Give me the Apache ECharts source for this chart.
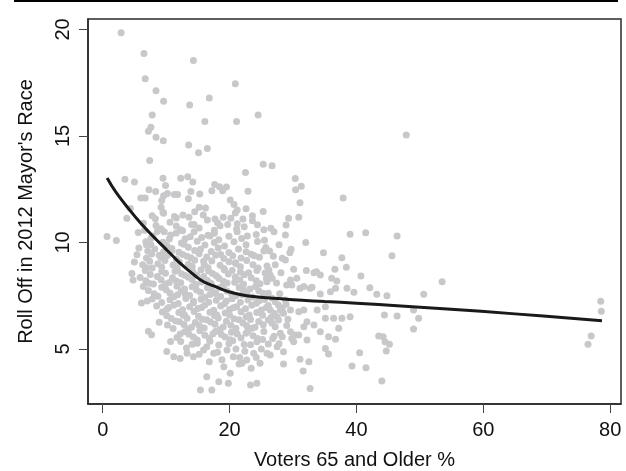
<!DOCTYPE html>
<html>
<head>
<meta charset="utf-8">
<script src="https://cdn.jsdelivr.net/npm/echarts@6/dist/echarts.min.js"></script>
<style>
  html, body { margin: 0; padding: 0; background: #fff; }
  #chart { width: 626px; height: 471px; }
</style>
</head>
<body>
<div id="chart"></div>
<script>
const xTicks = [0, 20, 40, 60, 80];
const yTicks = [5, 10, 15, 20];

// scattered points outside the main cloud
const sparse = [
  [2.9,19.84],[6.5,18.87],[14.3,18.54],[6.7,17.68],[20.9,17.45],[8.4,17.12],[16.8,16.78],[9.6,16.63],
  [13.7,16.45],[7.8,15.99],[24.5,15.99],[16.1,15.68],[21.1,15.68],[7.6,15.41],[7.2,15.22],[8.4,14.94],
  [9.55,14.77],[13.55,14.58],[16.5,14.41],[15.1,14.21],[7.4,13.85],[25.3,13.67],[22.5,13.28],[3.5,12.97],
  [5.0,12.84],[9.5,13.02],[12.3,13.02],[13.4,13.09],[14.2,12.84],[9.9,12.67],[7.3,12.48],[8.35,12.39],
  [6.0,12.09],[6.7,12.09],[9.6,12.2],[10.2,12.3],[11.3,12.25],[11.8,12.25],[13.9,12.39],[15.3,12.28],
  [13.5,12.05],[17.2,12.43],[17.65,12.72],[18.4,12.62],[18.9,12.43],[19.5,12.6],[22.9,12.41],[20.1,12.0],
  [20.7,11.78],[21.2,11.53],[22.6,11.58],[9.3,11.97],[9.2,11.66],[9.5,11.42],[15.2,11.66],[16.2,11.62],
  [15.85,11.29],[4.35,11.6],[7.8,11.26],[9.6,11.37],[12.65,11.29],[13.6,11.19],[3.8,11.14],[17.7,11.1],
  [22.1,11.1],[0.68,10.28],[2.15,10.09],[4.78,8.24],[7.0,7.25],
  [47.85,15.04],[26.7,13.6],[30.35,13.0],[31.3,12.64],[30.4,12.47],[37.9,12.09],[31.1,11.86],[29.3,11.14],
  [30.9,11.19],[28.9,10.82],[26.5,10.67],[27.0,10.51],[28.8,10.35],[39.0,10.39],[41.45,10.46],[46.4,10.31],
  [32.0,10.0],[29.7,9.68],[29.5,9.52],[34.8,9.52],[37.7,9.29],[45.6,9.38],[28.3,9.26],[28.8,9.18],
  [26.2,8.71],[26.4,8.48],[26.7,8.32],[25.9,8.16],[28.1,8.58],[30.1,8.74],[32.1,8.68],[33.3,8.58],
  [33.7,8.63],[34.3,8.48],[36.6,8.74],[38.4,8.84],[40.7,8.43],[36.1,8.32],[36.9,8.19],[36.7,7.85],
  [29.6,8.24],[30.6,8.32],[29.0,8.0],[29.8,8.0],[31.1,7.85],[31.7,7.93],[32.7,7.85],[33.0,7.9],
  [34.3,7.58],[35.9,7.69],[38.5,7.85],[39.6,7.66],[42.1,7.88],[43.2,7.57],[44.8,7.5],[50.6,7.57],[53.5,8.16],
  [26.1,7.62],[26.7,7.38],[27.2,7.22],[27.7,7.07],[28.3,6.91],[26.4,6.83],[27.0,6.68],[27.5,6.52],
  [28.0,6.83],[28.5,6.68],[27.7,6.36],[26.1,6.36],[26.7,6.21],[27.2,6.05],
  [29.6,6.83],[30.9,6.75],[31.7,6.83],[33.8,6.83],[35.1,6.99],[35.1,6.44],[36.4,6.44],[37.7,6.44],
  [39.0,6.52],[44.4,6.6],[46.4,6.55],[49.0,6.83],[49.8,6.44],[32.2,6.28],[33.3,6.13],[31.7,6.05],
  [34.3,5.81],[37.2,5.97],[29.6,5.81],[30.35,5.66],[30.9,5.66],[29.8,5.5],[30.1,5.34],[28.0,5.74],
  [28.3,5.58],[27.5,5.11],[28.5,4.87],[25.9,4.8],[26.4,4.72],[32.2,5.42],[35.6,5.58],[36.7,5.46],
  [35.6,4.77],[35.1,5.03],[31.1,4.52],[32.5,4.4],[31.6,3.97],[28.5,4.3],[32.7,3.15],[39.3,4.2],
  [41.5,4.12],[40.5,4.83],[43.5,5.61],[44.2,5.58],[44.5,5.34],[45.2,5.22],[44.7,4.91],[44.0,3.5],[49.0,5.94],
  [78.5,7.24],[78.6,6.77],[77.0,5.61],[76.5,5.23],
  [15.4,3.08],[17.2,3.08],[16.4,3.7],[18.3,3.47],[19.8,3.39],[23.3,3.31],[24.3,3.39],[20.1,3.86],
  [19.1,4.17],[21.95,4.33],[20.6,4.64],[22.7,4.48],[24.8,4.33],[23.8,4.8],
  [10.1,4.88],[11.2,4.64],[12.2,4.56],[13.3,4.8],[14.3,4.64],[15.9,4.95],[17.5,4.8],[14.9,5.27],
  [16.4,5.11],[18.3,5.19],[19.6,4.95],[21.0,5.0],[22.4,4.9],[23.3,5.2],[25.0,5.0],[21.6,4.6],
  [18.8,4.5],[16.8,4.4],[24.2,4.6]
];

// the dense cloud between x 5 and 26
const cloud = [
  [11.3,11.22],[14.5,11.44],[19.0,11.18],[20.9,11.38],[23.6,11.25],[25.3,11.46],
  [6.4,10.9],[8.3,11.12],[10.6,10.95],[11.6,11.15],[14.0,10.85],[16.5,11.06],[18.1,10.93],[20.2,11.14],[21.2,10.88],[23.6,11.02],[24.4,10.83],
  [6.6,10.58],[8.4,10.8],[9.2,10.64],[11.6,10.77],[12.6,10.55],[14.4,10.84],[15.2,10.68],[17.6,10.57],[18.5,10.79],[21.1,10.63],[22.3,10.74],[25.4,10.6],
  [5.6,10.47],[7.9,10.3],[8.6,10.52],[10.7,10.35],[11.6,10.45],[13.8,10.27],[14.4,10.5],[16.6,10.34],[17.6,10.44],[19.9,10.29],[21.2,10.5],[24.2,10.37],
  [6.8,10.04],[7.6,10.2],[9.5,10.01],[10.5,10.16],[12.4,9.98],[13.0,10.18],[14.9,10.06],[15.6,10.23],[17.6,10.0],[18.3,10.13],[20.7,10.03],[21.9,10.19],[24.4,10.05],
  [5.7,9.74],[7.6,9.9],[8.2,9.7],[10.1,9.86],[10.9,9.72],[12.8,9.92],[13.5,9.78],[15.4,9.68],[16.1,9.88],[18.2,9.74],[19.2,9.84],[21.4,9.69],[22.6,9.89],[25.7,9.77],
  [5.4,9.42],[7.1,9.6],[7.7,9.46],[9.6,9.56],[10.2,9.39],[12.0,9.54],[12.6,9.44],[14.5,9.62],[15.2,9.47],[17.1,9.58],[17.8,9.4],[19.9,9.53],[20.5,9.38],[22.6,9.57],[23.4,9.45],[25.4,9.6],
  [5.0,9.08],[6.9,9.27],[7.4,9.12],[9.2,9.3],[9.8,9.15],[11.6,9.23],[12.1,9.09],[13.9,9.28],[14.5,9.17],[16.4,9.32],[17.2,9.13],[19.1,9.25],[19.9,9.1],[21.8,9.27],[22.7,9.16],[24.7,9.31],
  [6.3,8.96],[6.9,8.81],[8.7,9.0],[9.3,8.85],[11.1,8.94],[11.7,8.79],[13.5,8.98],[14.1,8.87],[16.0,8.97],[16.6,8.82],[18.5,8.93],[19.1,8.78],[21.0,9.0],[21.7,8.86],[23.7,8.95],[24.5,8.8],
  [4.6,8.54],[6.7,8.68],[7.5,8.5],[9.3,8.64],[9.9,8.56],[11.8,8.7],[12.4,8.53],[14.2,8.63],[14.8,8.48],[16.7,8.66],[17.3,8.55],[19.2,8.71],[19.8,8.52],[21.7,8.62],[22.3,8.49],[24.3,8.68],[25.6,8.57],
  [5.9,8.36],[6.8,8.2],[8.6,8.4],[9.2,8.25],[11.0,8.34],[11.6,8.19],[13.5,8.37],[14.1,8.26],[15.9,8.41],[16.5,8.22],[18.3,8.32],[19.0,8.18],[20.9,8.38],[21.6,8.24],[23.4,8.35],[24.2,8.21],
  [6.4,7.93],[7.3,8.09],[9.3,7.9],[9.9,8.05],[11.7,7.95],[12.3,8.11],[14.1,7.92],[14.7,8.03],[16.5,7.88],[17.1,8.07],[19.0,7.96],[19.6,8.1],[21.5,7.89],[22.2,8.04],[24.1,7.94],[24.8,8.06],
  [7.2,7.75],[8.1,7.6],[10.0,7.78],[10.6,7.63],[12.4,7.73],[13.0,7.58],[14.8,7.77],[15.4,7.66],[17.2,7.81],[17.8,7.61],[19.6,7.72],[20.3,7.59],[22.1,7.79],[22.7,7.65],[24.6,7.74],[25.3,7.62],
  [7.8,7.35],[8.7,7.48],[10.6,7.31],[11.2,7.45],[13.1,7.37],[13.7,7.51],[15.5,7.34],[16.1,7.43],[17.9,7.29],[18.6,7.47],[20.4,7.36],[21.0,7.5],[22.9,7.3],[23.6,7.44],[25.5,7.33],
  [6.1,7.16],[8.5,7.02],[9.3,7.18],[11.2,7.05],[11.9,7.14],[13.7,6.99],[14.3,7.17],[16.1,7.07],[16.7,7.2],[18.6,7.02],[19.2,7.13],[21.1,6.98],[21.7,7.19],[23.5,7.06],[24.2,7.15],[26.1,7.04],
  [9.4,6.74],[10.1,6.87],[12.0,6.71],[12.6,6.84],[14.4,6.76],[15.0,6.9],[16.9,6.73],[17.5,6.82],[19.3,6.69],[20.0,6.86],[21.8,6.75],[22.5,6.89],[24.3,6.72],[25.0,6.83],
  [10.1,6.56],[10.8,6.43],[12.7,6.58],[13.3,6.45],[15.1,6.54],[15.7,6.4],[17.6,6.57],[18.2,6.46],[20.0,6.6],[20.7,6.42],[22.6,6.52],[23.3,6.39],[25.2,6.59],
  [8.9,6.26],[10.2,6.13],[12.1,6.28],[12.8,6.15],[14.6,6.24],[15.2,6.1],[17.0,6.27],[17.7,6.16],[19.5,6.3],[20.2,6.12],[22.1,6.22],[22.7,6.09],[24.6,6.29],[25.3,6.14],
  [7.2,5.83],[11.1,5.96],[12.9,5.81],[13.5,5.94],[15.3,5.86],[16.0,5.99],[17.8,5.84],[18.5,5.92],[20.3,5.79],[21.0,5.97],[22.9,5.85],[23.5,5.98],[25.4,5.82],
  [7.7,5.67],[11.7,5.54],[13.6,5.69],[14.3,5.56],[16.1,5.65],[16.8,5.51],[18.7,5.68],[19.3,5.57],[21.2,5.7],[21.8,5.52],[23.7,5.62],[24.4,5.49],
  [12.3,5.35],[14.1,5.23],[16.9,5.37],[19.9,5.26],[20.5,5.39],[22.3,5.21],[24.3,5.34],[26.1,5.24]
];

// extra points filling the gaps of the densest part
const cloudFill = [
  [10.9,9.62],[13.3,9.35],[15.9,9.12],[18.6,9.44],[20.9,9.05],[23.9,9.38],[26.3,9.6],
  [11.4,8.65],[13.0,8.45],[15.5,8.72],[17.9,8.44],[20.4,8.68],[23.0,8.58],[25.9,8.9],[27.2,8.95],
  [10.5,8.12],[12.9,7.82],[15.6,8.15],[18.4,7.88],[20.8,8.14],[23.2,7.82],[25.8,8.3],[27.4,8.1],
  [11.8,7.55],[14.3,7.24],[16.9,7.56],[19.5,7.25],[22.0,7.55],[24.6,7.25],[27.9,7.6],[28.8,7.3],
  [10.4,6.95],[12.9,6.6],[15.6,6.95],[18.0,6.6],[20.6,6.94],[23.1,6.6],[25.8,6.95],[28.9,7.1],
  [11.5,6.32],[14.0,6.02],[16.4,6.38],[19.0,6.03],[21.5,6.37],[24.0,6.02],[26.6,6.5],[29.2,6.4],
  [12.2,5.7],[14.9,5.42],[17.4,5.72],[20.1,5.44],[22.6,5.74],[25.2,5.45],[27.0,5.6],[29.0,6.1],
  [8.9,9.4],[7.8,8.8],[8.0,8.05],[6.9,9.9],[9.7,10.5],[12.3,10.6],[16.9,10.3],[19.7,10.85],
  [22.8,10.3],[25.5,10.1],[27.8,9.9],[26.9,9.35],
  [10.7,5.35],[13.2,5.05],[15.2,4.75],[18.1,4.85],[21.5,4.3],[23.4,4.1],[26.8,5.5],[27.8,5.25]
];

// smoothed trend line
const curve = [
  [0.7,13.03],[2.0,12.4],[4.2,11.54],[6.0,10.9],[8.0,10.27],[10.0,9.68],[11.6,9.2],[13.0,8.82],
  [14.5,8.45],[15.9,8.16],[17.5,7.96],[19.0,7.78],[20.6,7.63],[22.7,7.5],[24.5,7.44],[26.0,7.41],
  [30.0,7.31],[35.0,7.23],[40.0,7.15],[47.0,7.02],[54.3,6.88],[65.0,6.65],[78.7,6.33]
];

var points = sparse.concat(cloud, cloudFill);

var dom = document.getElementById('chart');
var myChart = echarts.init(dom, null, { renderer: 'canvas' });

var font = 'Liberation Sans, Arial, Helvetica, sans-serif';
var option = {
  animation: false,
  textStyle: { fontFamily: font },
  grid: {
    left: 88, right: 5, top: 19, bottom: 67,
    show: true, borderColor: '#2a2a2a', borderWidth: 1.5,
    containLabel: false, outerBoundsMode: 'none'
  },
  graphic: [{
    type: 'rect', left: 14, top: 0,
    shape: { width: 604, height: 2 },
    style: { fill: '#000' }
  }],
  xAxis: {
    type: 'value', min: -2.32, max: 81.7,
    name: 'Voters 65 and Older %', nameLocation: 'middle', nameGap: 46,
    nameTextStyle: { fontSize: 20, color: '#111', fontFamily: font },
    axisLine: { show: true, onZero: false, lineStyle: { color: '#2a2a2a', width: 1.5 } },
    axisTick: { show: true, customValues: xTicks, length: 9, lineStyle: { color: '#444' } },
    axisLabel: { customValues: xTicks, fontSize: 20, color: '#111', margin: 16, fontFamily: font },
    splitLine: { show: false }
  },
  yAxis: {
    type: 'value', min: 2.42, max: 20.49,
    name: "Roll Off in 2012 Mayor's Race", nameLocation: 'middle', nameGap: 52,
    nameTextStyle: { fontSize: 20, color: '#111', fontFamily: font },
    axisLine: { show: true, onZero: false, lineStyle: { color: '#2a2a2a', width: 1.5 } },
    axisTick: { show: true, customValues: yTicks, length: 9, lineStyle: { color: '#444' } },
    axisLabel: { customValues: yTicks, fontSize: 20, color: '#111', margin: 15, rotate: 90, fontFamily: font },
    splitLine: { show: false }
  },
  series: [
    {
      type: 'scatter',
      data: points,
      symbolSize: 7,
      itemStyle: { color: '#c8c8ca', opacity: 1 },
      z: 2
    },
    {
      type: 'line',
      data: curve,
      smooth: 0.4,
      symbol: 'none',
      lineStyle: { color: '#1a1a1a', width: 3 },
      z: 3
    }
  ]
};

myChart.setOption(option);
window.addEventListener('resize', myChart.resize);
</script>
</body>
</html>
